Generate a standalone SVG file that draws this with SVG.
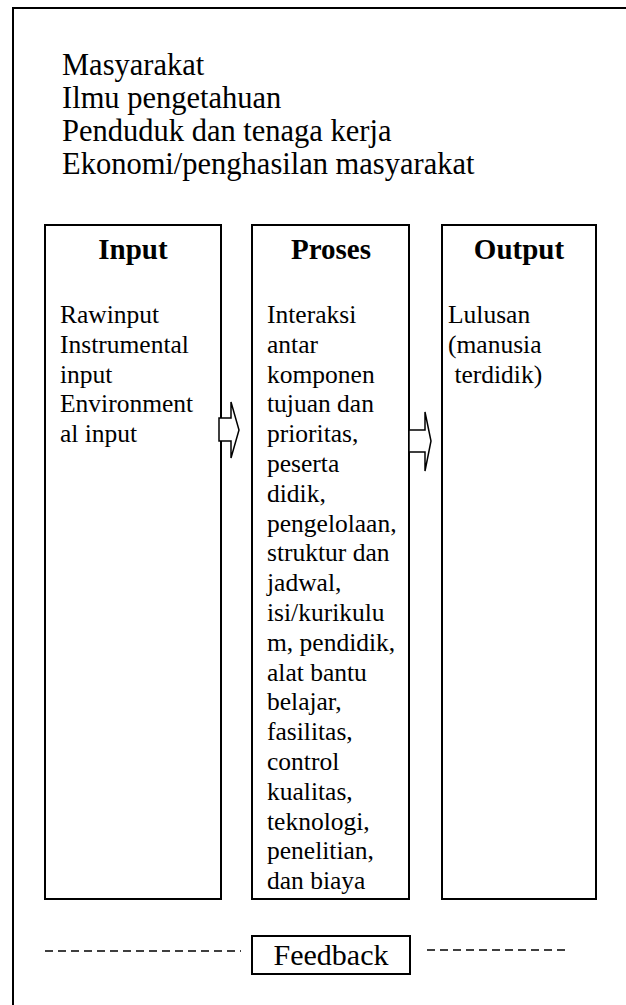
<svg xmlns="http://www.w3.org/2000/svg" width="626" height="1005" viewBox="0 0 626 1005">
<style>
.t{font-family:"Liberation Serif","DejaVu Serif",serif;fill:#000;}
.top{font-size:30.5px;}
.body{font-size:25.5px;}
.head{font-size:29px;font-weight:bold;}
.box{fill:#fff;stroke:#000;stroke-width:2;}
.arr{fill:#fff;stroke:#000;stroke-width:1.5;stroke-linejoin:miter;}
.dash{stroke:#000;stroke-width:1.5;stroke-dasharray:8,5;fill:none;}
</style>
<rect width="626" height="1005" fill="#fff"/>
<g id="frame">
<path d="M13,1005 V8 H626" fill="none" stroke="#000" stroke-width="2"/>
</g>
<g id="context">
<text class="t top" x="62" y="75">Masyarakat</text>
<text class="t top" x="62" y="108">Ilmu pengetahuan</text>
<text class="t top" x="62" y="141">Penduduk dan tenaga kerja</text>
<text class="t top" x="62" y="174">Ekonomi/penghasilan masyarakat</text>
</g>
<g id="input">
<rect class="box" x="45" y="225" width="176" height="674"/>
<text class="t head" x="133" y="259" text-anchor="middle">Input</text>
<text class="t body" x="60" y="323">Rawinput</text>
<text class="t body" x="60" y="352.8">Instrumental</text>
<text class="t body" x="60" y="382.6">input</text>
<text class="t body" x="60" y="412.4">Environment</text>
<text class="t body" x="60" y="442.2">al input</text>
</g>
<g id="proses">
<rect class="box" x="252" y="225" width="157" height="674"/>
<text class="t head" x="331" y="259" text-anchor="middle">Proses</text>
<text class="t body" x="267" y="323">Interaksi</text>
<text class="t body" x="267" y="352.8">antar</text>
<text class="t body" x="267" y="382.6">komponen</text>
<text class="t body" x="267" y="412.4">tujuan dan</text>
<text class="t body" x="267" y="442.2">prioritas,</text>
<text class="t body" x="267" y="472">peserta</text>
<text class="t body" x="267" y="501.8">didik,</text>
<text class="t body" x="267" y="531.6">pengelolaan,</text>
<text class="t body" x="267" y="561.4">struktur dan</text>
<text class="t body" x="267" y="591.2">jadwal,</text>
<text class="t body" x="267" y="621">isi/kurikulu</text>
<text class="t body" x="267" y="650.8">m, pendidik,</text>
<text class="t body" x="267" y="680.6">alat bantu</text>
<text class="t body" x="267" y="710.4">belajar,</text>
<text class="t body" x="267" y="740.2">fasilitas,</text>
<text class="t body" x="267" y="770">control</text>
<text class="t body" x="267" y="799.8">kualitas,</text>
<text class="t body" x="267" y="829.6">teknologi,</text>
<text class="t body" x="267" y="859.4">penelitian,</text>
<text class="t body" x="267" y="889.2">dan biaya</text>
</g>
<g id="output">
<rect class="box" x="442" y="225" width="154" height="674"/>
<text class="t head" x="519" y="259" text-anchor="middle">Output</text>
<text class="t body" x="448" y="323">Lulusan</text>
<text class="t body" x="448" y="352.8">(manusia</text>
<text class="t body" x="448" y="382.6" xml:space="preserve"> terdidik)</text>
</g>
<g id="feedback">
<rect class="box" x="252" y="936" width="158" height="38"/>
<text class="t" x="331" y="965" text-anchor="middle" font-size="30">Feedback</text>
</g>
<g id="connectors">
<path class="arr" d="M219,418 H231 V402 L239,430 L231,458 V441 H219 Z"/>
<path class="arr" d="M409,430 H425 V412 L431,441 L425,471 V452 H409 Z"/>
<line class="dash" x1="45" y1="951" x2="241" y2="951"/>
<line class="dash" x1="427" y1="950" x2="568" y2="950"/>
</g>
</svg>
